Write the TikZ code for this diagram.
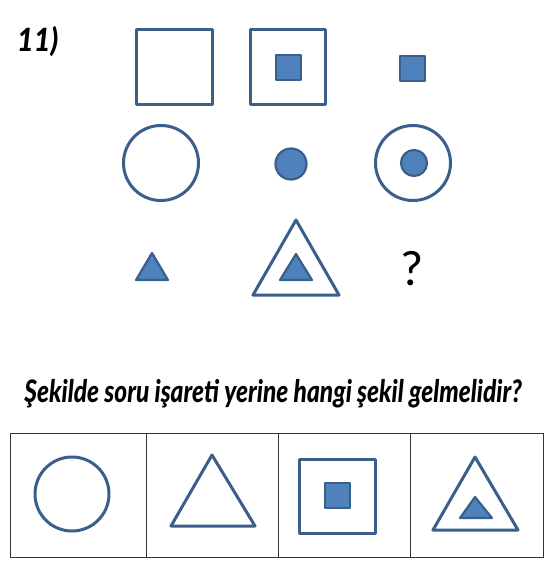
\documentclass[tikz,border=0pt]{standalone}
\usepackage{fontspec}
\newfontfamily\qfont[FakeStretch=0.79]{Lato Black}
\newfontfamily\nfont[FakeStretch=0.9]{Lato Black}
\newfontfamily\markfont{Carlito}
\definecolor{edge}{HTML}{3A5F8B}
\definecolor{fillb}{HTML}{4F81BD}
\begin{document}
\begin{tikzpicture}[x=1pt,y=-1pt,
  outline/.style={draw=edge,line width=3pt,line join=round},
  solid/.style={draw=edge,fill=fillb,line width=2.2pt,line join=round},
  cell/.style={draw=black!80,line width=0.9pt}]
\useasboundingbox[fill=white] (0,0) rectangle (547,568);
\node[anchor=base west,inner sep=0pt,font=\nfont\itshape\fontsize{32}{34}\selectfont] (num) at (17,51) {11)};
% row 1
\draw[outline] (136,29) rectangle (212,104);
\draw[outline] (250,29) rectangle (325,104);
\draw[solid] (276,55) rectangle (301,80);
\draw[solid] (400,56) rectangle (425,81);
% row 2
\draw[outline] (161,163) circle (37.5);
\draw[solid] (291,164) circle (15.5);
\draw[outline] (413,163) circle (37.5);
\draw[solid] (414,163) circle (13);
% row 3
\draw[solid] (152,253) -- (168,280) -- (136,280) -- cycle;
\draw[outline] (296,220) -- (339,295) -- (253,295) -- cycle;
\draw[solid] (296,254) -- (312,280) -- (280,280) -- cycle;
\node[anchor=base,inner sep=0pt,font=\markfont\fontsize{50}{52}\selectfont] (q) at (412,285) {?};
% question
\node[anchor=base,inner sep=0pt,font=\qfont\itshape\fontsize{31}{33}\selectfont] (quest) at (273,402) {Şekilde soru işareti yerine hangi şekil gelmelidir?};
% answer table
\draw[cell] (10,433) rectangle (543,557);
\draw[cell] (146,433) -- (146,557);
\draw[cell] (278,433) -- (278,557);
\draw[cell] (410,433) -- (410,557);
\draw[outline] (72,494) circle (37);
\draw[outline] (212,455) -- (255,526) -- (171,526) -- cycle;
\draw[outline] (299,459) rectangle (375,533);
\draw[solid] (325,483) rectangle (350,508);
\draw[outline] (475,457) -- (518,530) -- (433,530) -- cycle;
\draw[solid] (475,497) -- (492,518) -- (460,518) -- cycle;
\end{tikzpicture}
\end{document}
